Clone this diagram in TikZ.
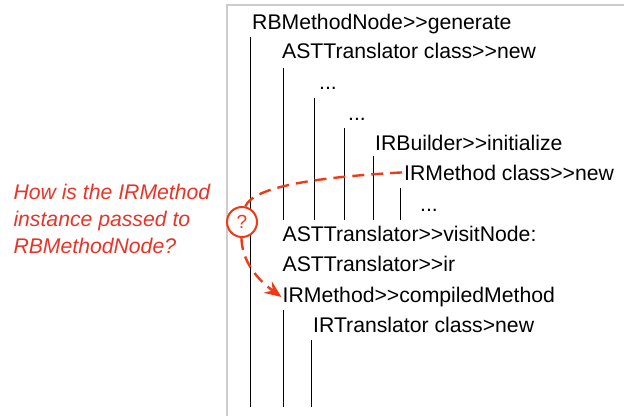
\documentclass[tikz,border=0pt]{standalone}
\usepackage{fontspec}
\setmainfont{Liberation Sans}[Ligatures=TeXOff]
\usetikzlibrary{arrows.meta}
\definecolor{frame}{RGB}{204,204,204}
\definecolor{qred}{RGB}{240,58,23}
\definecolor{tred}{RGB}{232,52,40}
\begin{document}
\begin{tikzpicture}[x=1pt,y=-1pt,
  call/.style={anchor=base west,inner sep=0pt,font=\fontsize{21.2}{24}\selectfont},
  life/.style={line width=1pt,black},
  qline/.style={qred,line width=2.4pt,dash pattern=on 12pt off 7pt},
  qnote/.style={anchor=base west,inner sep=0pt,text=tred,font=\fontsize{21.2}{26.7}\selectfont\itshape,align=left}]
\useasboundingbox (0,0) rectangle (624,416);
% frame
\draw[frame,line width=2pt] (624,5) -- (227,5) -- (227,416);
% calls
\node[call] (gen) at (252,29) {RBMethodNode>>generate};
\node[call] (astnew) at (282,58) {ASTTranslator class>>new};
\node[call] (d1) at (319,89) {...};
\node[call] (d2) at (348,120) {...};
\node[call] (irb) at (375,150) {IRBuilder>>initialize};
\node[call] (irnew) at (404,180) {IRMethod class>>new};
\node[call] (d3) at (420,211) {...};
\node[call] (visit) at (282.5,241.5) {ASTTranslator>>visitNode:};
\node[call] (ir) at (282.5,271.5) {ASTTranslator>>ir};
\node[call] (compiled) at (282.5,302.5) {IRMethod>>compiledMethod};
\node[call] (irtnew) at (313,332.5) {IRTranslator class>new};
% lifelines
\draw[life] (250.7,37) -- (250.7,407);
\draw[life] (283.3,68) -- (283.3,220);
\draw[life] (314,98) -- (314,220);
\draw[life] (344,128) -- (344,220);
\draw[life] (373.3,156) -- (373.3,220);
\draw[life] (400.3,188) -- (400.3,220);
\draw[life] (283.3,310) -- (283.3,407);
\draw[life] (311.7,340) -- (311.7,407);
% question
\node[qnote] (note) at (13.3,253.3) {How is the IRMethod\\instance passed to\\RBMethodNode?};
\node[draw=qred,line width=2pt,circle,minimum size=30pt,inner sep=0pt,fill=white,text=qred,font=\fontsize{19}{22}\selectfont] (q) at (242,222) {?};
\draw[qline] (q.78) .. controls (254,186) and (320,177) .. ([xshift=-2pt]irnew.west);
\draw[qline,-{Stealth[length=17pt,width=14pt,inset=6pt]}] (q.268) .. controls (242,262) and (258,280) .. ([xshift=-1pt]compiled.west);
\end{tikzpicture}
\end{document}
